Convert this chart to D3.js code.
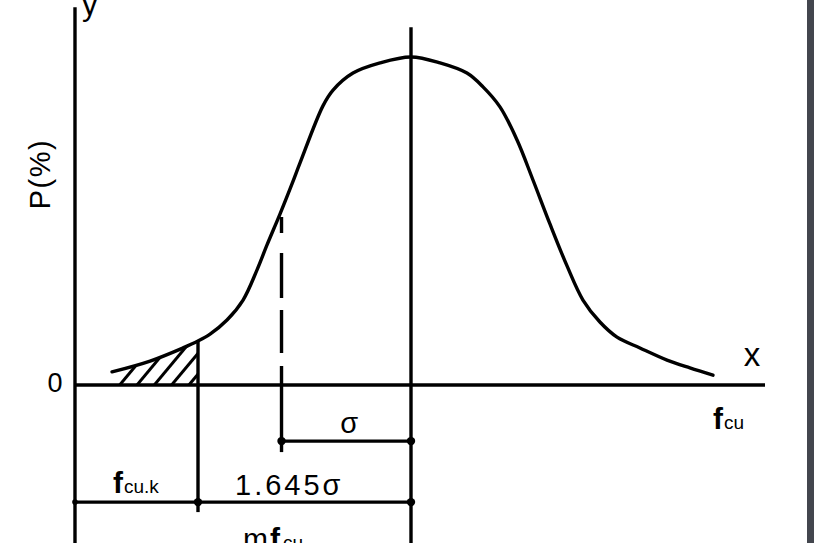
<!DOCTYPE html>
<html>
<head>
<meta charset="utf-8">
<script src="https://cdn.jsdelivr.net/npm/d3@7"></script>
<style>
  html, body { margin: 0; padding: 0; background: #fff; }
  svg { display: block; }
  text { font-family: "Liberation Sans", Arial, Helvetica, sans-serif; fill: #000; }
</style>
</head>
<body>
<svg id="chart" width="814" height="543"></svg>
<script>
// ---- data (x in units of sigma from the mean, y in % of peak) ----
const curveZ = [-2.309, -2.015, -1.761, -1.645, -1.552, -1.421, -1.297, -1.189, -1.112, -1.012,
                -0.919, -0.857, -0.680, -0.602, -0.448, -0.239, 0.000, 0.224, 0.432, 0.556, 0.687,
                0.819, 0.942, 1.073, 1.205, 1.328, 1.459, 1.591, 1.768, 1.977, 2.154, 2.332];
const curveP = [4.0, 7.3, 11.3, 13.4, 15.5, 19.8, 25.9, 35.1, 42.7, 52.1,
                61.3, 67.7, 85.1, 89.9, 95.1, 98.2, 100.0, 98.2, 95.1, 90.9, 84.8,
                74.7, 62.5, 49.1, 36.3, 25.9, 19.2, 14.6, 11.3, 7.6, 5.2, 3.0];
const markNames = ["fcuk", "sigma", "mean"];
const markZ = [-1.645, -1.0, 0.0];
const axisRangeZ = [-2.595, 2.734];     // x axis extent
const axisRangeP = [-48.2, 115.2];      // y axis extent
const meanTopP = 109.1;
const dimLevelsP = [-17.1, -35.7];      // sigma row, 1.645 sigma row
const labels = { y: "y", x: "x", zero: "0", p: "P(%)", sigma: "σ", k: "1.645σ" };

// ---- scales ----
const svg = d3.select("#chart");
const x = d3.scaleLinear().domain([markZ[0], markZ[2]]).range([198, 411]);
const y = d3.scaleLinear().domain([0, 100]).range([385, 57]);

const pts = curveZ.map((z, i) => [z, curveP[i]]);
const line = d3.line().x(d => x(d[0])).y(d => y(d[1])).curve(d3.curveCatmullRom.alpha(0.5));

// right dark strip
svg.append("rect").attr("x", 807).attr("y", 0).attr("width", 7).attr("height", 543).attr("fill", "#43464e");

const SW = 3.4;
const g = svg.append("g").attr("stroke", "#000").attr("fill", "none").attr("stroke-linecap", "butt");

// hatched tail
const kIdx = curveZ.indexOf(markZ[0]);
const tail = pts.slice(0, kIdx + 1);
const area = d3.area().x(d => x(d[0])).y0(y(0)).y1(d => y(d[1])).curve(d3.curveCatmullRom.alpha(0.5));
svg.append("clipPath").attr("id", "tailclip").append("path").attr("d", area(tail));
const hatch = svg.append("g").attr("clip-path", "url(#tailclip)");
const hatchStart = x(curveZ[0]) + 6, hatchStep = 17.3, hatchRise = 60, hatchRun = 50;
for (let bx = hatchStart; bx < x(markZ[0]) + 5; bx += hatchStep) {
  hatch.append("line").attr("x1", bx).attr("y1", y(0) + 2).attr("x2", bx + hatchRun).attr("y2", y(0) + 2 - hatchRise)
    .attr("stroke", "#000").attr("stroke-width", 3);
}

// axes
g.append("line").attr("x1", x(axisRangeZ[0])).attr("x2", x(axisRangeZ[0]))
  .attr("y1", y(axisRangeP[1])).attr("y2", 543).attr("stroke-width", SW);
g.append("line").attr("x1", x(axisRangeZ[0])).attr("x2", x(axisRangeZ[1]))
  .attr("y1", y(0)).attr("y2", y(0)).attr("stroke-width", SW);

// curve
g.append("path").attr("d", line(pts)).attr("stroke-width", SW).attr("stroke-linejoin", "round").attr("stroke-linecap", "round");

// mean vertical
g.append("line").attr("x1", x(markZ[2])).attr("x2", x(markZ[2]))
  .attr("y1", y(meanTopP)).attr("y2", 543).attr("stroke-width", SW);

// fcu,k vertical
g.append("line").attr("x1", x(markZ[0])).attr("x2", x(markZ[0]))
  .attr("y1", y(curveP[kIdx])).attr("y2", y(dimLevelsP[1]) + 10).attr("stroke-width", SW);

// sigma dashed vertical
const sIdx = curveZ.findIndex(z => Math.abs(z - markZ[1]) < 0.02);
const sTop = y(curveP[sIdx]) + 3;
g.append("line").attr("x1", x(markZ[1])).attr("x2", x(markZ[1]))
  .attr("y1", sTop).attr("y2", y(0)).attr("stroke-width", SW).attr("stroke-dasharray", "16,20,45,12,43,13,45");
g.append("line").attr("x1", x(markZ[1])).attr("x2", x(markZ[1]))
  .attr("y1", y(0)).attr("y2", y(dimLevelsP[0]) + 11).attr("stroke-width", SW);

// dimension lines
g.append("line").attr("x1", x(markZ[1])).attr("x2", x(markZ[2]))
  .attr("y1", y(dimLevelsP[0])).attr("y2", y(dimLevelsP[0])).attr("stroke-width", SW);
g.append("line").attr("x1", x(axisRangeZ[0])).attr("x2", x(markZ[2]))
  .attr("y1", y(dimLevelsP[1])).attr("y2", y(dimLevelsP[1])).attr("stroke-width", SW);

const dots = [[markZ[1], dimLevelsP[0]], [markZ[2], dimLevelsP[0]], [markZ[0], dimLevelsP[1]], [markZ[2], dimLevelsP[1]]];
svg.selectAll("circle.dot").data(dots).join("circle").attr("class", "dot")
  .attr("cx", d => x(d[0])).attr("cy", d => y(d[1])).attr("r", 4.2).attr("fill", "#000");
svg.append("circle").attr("cx", x(axisRangeZ[0])).attr("cy", y(dimLevelsP[1])).attr("r", 2.8).attr("fill", "#000");

// ---- text ----
svg.append("text").attr("x", 82).attr("y", 15).attr("font-size", 31).text(labels.y);
svg.append("text").attr("transform", `translate(50,174) rotate(-90)`).attr("text-anchor", "middle")
  .attr("font-size", 29).attr("letter-spacing", 1.5).text(labels.p);
svg.append("text").attr("x", 55).attr("y", y(0) + 7).attr("text-anchor", "middle").attr("font-size", 27).text(labels.zero);
svg.append("text").attr("x", 752).attr("y", 366).attr("text-anchor", "middle").attr("font-size", 33).text(labels.x);

function fsub(px, py, main, sub, mainSize, subSize) {
  const t = svg.append("text").attr("x", px).attr("y", py);
  t.append("tspan").attr("font-size", mainSize).attr("font-weight", "bold").text(main);
  t.append("tspan").attr("font-size", subSize).attr("dx", 1).text(sub);
  return t;
}
fsub(713, 429, "f", "cu", 30, 19);
fsub(113, 493, "f", "cu.k", 30, 19);
svg.append("text").attr("x", 243).attr("y", 549).attr("font-size", 30).text("m");
svg.append("text").attr("x", 270).attr("y", 549).attr("font-size", 30).attr("font-weight", "bold").text("f");
svg.append("text").attr("x", 283).attr("y", 549).attr("font-size", 19).text("cu");

svg.append("text").attr("x", (x(markZ[1]) + x(markZ[2])) / 2 + 3).attr("y", 433).attr("text-anchor", "middle")
  .attr("font-size", 29).text(labels.sigma);
svg.append("text").attr("x", 235).attr("y", 495).attr("font-size", 29).attr("letter-spacing", 3).text(labels.k);
</script>
</body>
</html>
